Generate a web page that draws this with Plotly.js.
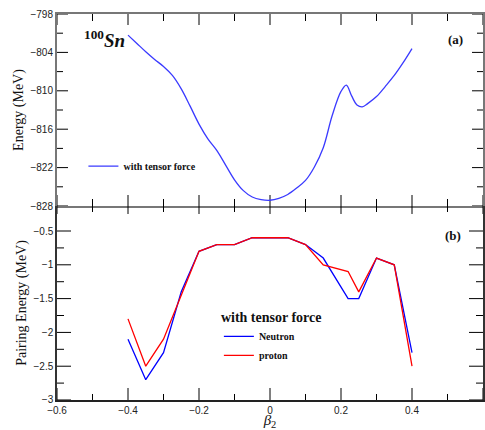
<!DOCTYPE html>
<html>
<head>
<meta charset="utf-8">
<script src="https://cdn.plot.ly/plotly-3.0.1.min.js"></script>
<style>html,body{margin:0;padding:0;background:#fff;}#chart{width:485px;height:430px;}</style>
</head>
<body>
<div id="chart"></div>
<script>
// Panel (a): total energy vs beta2
const betaA = [-0.4,-0.375,-0.35,-0.325,-0.3,-0.275,-0.25,-0.225,-0.2,-0.175,-0.15,-0.125,-0.1,-0.075,-0.05,-0.025,0,0.025,0.05,0.075,0.1,0.125,0.15,0.175,0.2,0.215,0.23,0.245,0.26,0.275,0.3,0.325,0.35,0.375,0.4];
const energyA = [-801.3,-802.6,-803.9,-805.1,-806.2,-807.6,-809.7,-812.4,-815.2,-817.5,-819.3,-821.6,-823.9,-825.6,-826.6,-827.0,-827.1,-826.8,-826.2,-825.2,-824.0,-821.9,-818.9,-813.9,-810.1,-809.1,-810.8,-812.2,-812.5,-812.0,-810.9,-809.3,-807.6,-805.6,-803.4];

// Panel (b): pairing energies
const betaB = [-0.4,-0.35,-0.3,-0.25,-0.2,-0.15,-0.1,-0.05,0,0.05,0.1,0.15,0.22,0.25,0.3,0.35,0.4];
const neutron = [-2.1,-2.7,-2.3,-1.4,-0.8,-0.7,-0.7,-0.6,-0.6,-0.6,-0.7,-0.9,-1.5,-1.5,-0.9,-1.0,-2.3];
const proton  = [-1.8,-2.5,-2.1,-1.45,-0.8,-0.7,-0.7,-0.6,-0.6,-0.6,-0.7,-1.0,-1.1,-1.4,-0.9,-1.0,-2.5];

// Tick values
const xTickVals = [-0.6,-0.4,-0.2,0,0.2,0.4,0.6];
const yTickValsA = [-828,-822,-816,-810,-804,-798];
const yTickValsB = [-3,-2.5,-2,-1.5,-1,-0.5];

const tickFont = {family:'Liberation Sans, Arial, sans-serif', size:10, color:'#222'};
const serif = 'Liberation Serif, Times New Roman, serif';
const W = 485, H = 430, ML = 57, MR = 2, MT = 14, MB = 30;
const split = 0.5026;
const xRange = [-0.6, 0.6];
const yRangeA = [-828, -798];
const yRangeB = [-3, -0.13];

// data units per pixel for each axis (used only to size the inward tick marks)
const plotW = W - ML - MR, plotH = H - MT - MB;
const xPerPx = (xRange[1] - xRange[0]) / plotW;
const yAPerPx = (yRangeA[1] - yRangeA[0]) / (plotH * (1 - split));
const yBPerPx = (yRangeB[1] - yRangeB[0]) / (plotH * split);

function withMinor(vals) {
  const out = [];
  vals.forEach((v, i) => {
    out.push([v, true]);
    if (i < vals.length - 1) out.push([(v + vals[i+1]) / 2, false]);
  });
  return out;
}
// builds a tick-mark trace (segments separated by null) along x edges and y edges of one panel
function tickTrace(xa, ya, yRange, yPerPx, yVals, lx, ly) {
  const xs = [], ys = [];
  withMinor(xTickVals).forEach(([v, maj]) => {
    const l = lx[maj ? 0 : 1] * yPerPx, lt = lx[maj ? 2 : 3] * yPerPx;
    xs.push(v, v, null, v, v, null);
    ys.push(yRange[0], yRange[0] + l, null, yRange[1], yRange[1] - lt, null);
  });
  withMinor(yVals).forEach(([v, maj]) => {
    const l = (maj ? ly[0] : ly[1]) * xPerPx;
    xs.push(xRange[0], xRange[0] + l, null, xRange[1], xRange[1] - l, null);
    ys.push(v, v, null, v, v, null);
  });
  return {x:xs, y:ys, xaxis:xa, yaxis:ya, mode:'lines', showlegend:false, hoverinfo:'skip',
    line:{color:'#000', width:1}, connectgaps:false, cliponaxis:false};
}

const traces = [
  tickTrace('x', 'y', yRangeA, yAPerPx, yTickValsA, [11, 7, 11, 7], [11, 6]),
  tickTrace('x2', 'y2', yRangeB, yBPerPx, yTickValsB, [12, 6, 8, 6], [14, 7]),
  {x:betaA, y:energyA, xaxis:'x', yaxis:'y', mode:'lines', name:'with tensor force',
   line:{color:'#3a3aff', width:1.3, shape:'spline', smoothing:1}, legend:'legend'},
  {x:betaB, y:neutron, xaxis:'x2', yaxis:'y2', mode:'lines', name:'Neutron',
   line:{color:'#0000ff', width:1.3}, legend:'legend2'},
  {x:betaB, y:proton, xaxis:'x2', yaxis:'y2', mode:'lines', name:'proton',
   line:{color:'#ff0000', width:1.3}, legend:'legend2'}
];

const layout = {
  width:W, height:H,
  margin:{l:ML, r:MR, t:MT, b:MB},
  paper_bgcolor:'#ffffff', plot_bgcolor:'#ffffff',
  showlegend:true,
  xaxis: {anchor:'y', range:xRange, showgrid:false, zeroline:false, ticks:'', showticklabels:false,
    showline:true, linecolor:'#777', linewidth:2, mirror:true},
  yaxis: {domain:[split,1], anchor:'x', range:yRangeA, showgrid:false, zeroline:false,
    ticks:'', tickmode:'array', tickvals:yTickValsA, tickfont:tickFont,
    showline:true, linecolor:'#777', linewidth:2, mirror:true,
    title:{text:'Energy (MeV)', font:{family:serif, size:14, color:'#111'}, standoff:4}},
  xaxis2: {anchor:'y2', range:xRange, showgrid:false, zeroline:false, ticks:'',
    tickmode:'array', tickvals:xTickVals, tickfont:tickFont,
    showline:true, linecolor:'#222', linewidth:1.5, mirror:false,
    title:{text:'<i>β</i><sub>2</sub>', font:{family:serif, size:15, color:'#111'}, standoff:3}},
  yaxis2: {domain:[0,split], anchor:'x2', range:yRangeB, showgrid:false, zeroline:false,
    ticks:'', tickmode:'array', tickvals:yTickValsB, tickfont:tickFont,
    showline:true, linecolor:'#333', linewidth:1.5, mirror:true,
    title:{text:'Pairing Energy (MeV)', font:{family:serif, size:14, color:'#111'}, standoff:4}},
  legend: {x:0.062, y:0.606, xanchor:'left', yanchor:'middle', bgcolor:'rgba(0,0,0,0)', borderwidth:0,
    font:{family:serif, size:10, weight:'bold', color:'#111'}},
  legend2: {x:0.38, y:0.163, xanchor:'left', yanchor:'middle', bgcolor:'rgba(0,0,0,0)', borderwidth:0,
    tracegroupgap:0,
    title:{text:'with tensor force', side:'top', font:{family:serif, size:14, weight:'bold', color:'#111'}},
    font:{family:serif, size:10, weight:'bold', color:'#111'}},
  annotations:[
    {xref:'paper', yref:'paper', x:0.058, y:0.935, xanchor:'left', yanchor:'middle', showarrow:false,
     text:'<b><sup>100</sup><i>Sn</i></b>', font:{family:serif, size:19, color:'#111'}},
    {xref:'paper', yref:'paper', x:0.935, y:0.935, xanchor:'center', yanchor:'middle', showarrow:false,
     text:'<b>(a)</b>', font:{family:serif, size:13, color:'#111'}},
    {xref:'paper', yref:'paper', x:0.93, y:0.425, xanchor:'center', yanchor:'middle', showarrow:false,
     text:'<b>(b)</b>', font:{family:serif, size:13, color:'#111'}}
  ]
};

Plotly.newPlot('chart', traces, layout, {displayModeBar:false});
</script>
</body>
</html>
